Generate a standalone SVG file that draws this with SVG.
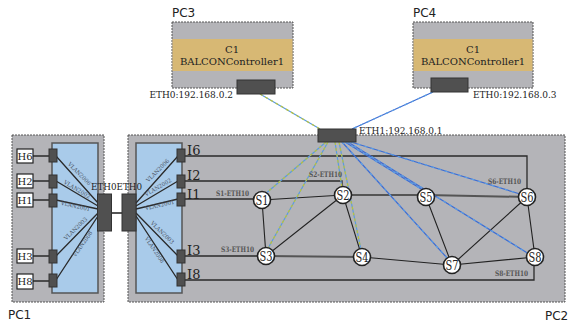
<svg xmlns="http://www.w3.org/2000/svg" width="569" height="323" viewBox="0 0 569 323">
<style>
.pc{fill:#b4b4b8;stroke:#555;stroke-width:1;stroke-dasharray:2,1}
.panel{fill:#a9cbea;stroke:#555;stroke-width:1.5}
.band{fill:#d7b874}
.port{fill:#505050;stroke:#333;stroke-width:1}
.host{fill:#fff;stroke:#222;stroke-width:1.2}
.pcl{font-family:"DejaVu Sans",sans-serif;font-size:12px;fill:#222}
.serif{font-family:"DejaVu Serif",serif;fill:#222}
.vl{font-family:"DejaVu Serif",serif;font-size:5.7px;fill:#4a5566;text-anchor:middle}
.eth10{font-family:"DejaVu Serif",serif;font-size:7.5px;font-weight:bold;fill:#555}
.wire{stroke:#2a2a2a;stroke-width:1.3;fill:none}
.edge{stroke:#222;stroke-width:1.1;fill:none}
.edgeg{stroke:#555;stroke-width:2;fill:none}
.yb{stroke:#5a9be0;stroke-width:1.2;fill:none}
.yb2{stroke:#bac43a;stroke-width:1.2;stroke-dasharray:3,3;fill:none}
.bl{stroke:#3d6cd2;stroke-width:1.2;fill:none}
.bl2{stroke:#5c9ee6;stroke-width:1.2;stroke-dasharray:3,4;fill:none}
.node circle{fill:#fff;stroke:#222;stroke-width:1.6}
.node text{font-family:"DejaVu Serif",serif;font-size:12px;fill:#222;text-anchor:middle}
</style>

<g id="PC1">
<rect class="pc" x="12" y="135" width="92" height="167"/>
<text class="pcl" x="8" y="319">PC1</text>
<rect class="panel" x="52" y="143" width="46" height="150"/>
</g>
<g id="PC2">
<rect class="pc" x="128" y="135" width="437" height="167"/>
<text class="pcl" x="545" y="320">PC2</text>
<rect class="panel" x="136" y="143" width="46" height="150"/>
</g>
<g id="PC3">
<text class="pcl" x="172" y="17">PC3</text>
<rect class="pc" x="172" y="22" width="121" height="66"/>
<rect class="band" x="172.5" y="39" width="120" height="32"/>
<text class="serif" x="232" y="53" font-size="10" text-anchor="middle">C1</text>
<text class="serif" x="232" y="65" font-size="10" text-anchor="middle">BALCONController1</text>
</g>
<g id="PC4">
<text class="pcl" x="413" y="17">PC4</text>
<rect class="pc" x="413" y="22" width="120" height="66"/>
<rect class="band" x="413.5" y="39" width="119" height="32"/>
<text class="serif" x="473" y="53" font-size="10" text-anchor="middle">C1</text>
<text class="serif" x="473" y="65" font-size="10" text-anchor="middle">BALCONController1</text>
</g>

<g id="connectors">
<path class="wire" d="M33 156H49M33 181H49M33 200H49M33 256H49M33 281H49"/>
<path class="wire" d="M56 156L98 203M56 181L98 206M56 200L98 209M56 256L98 213M56 280L98 216"/>
<path class="wire" d="M136 203L178 156M136 206L178 181M136 209L178 199M136 213L178 256M136 216L178 280"/>
<path d="M112 213H122" stroke="#555" stroke-width="2"/>
<path class="wire" d="M185 156H527V189"/>
<path class="wire" d="M185 181H342V187"/>
<path class="wire" d="M185 199H254"/>
<path class="wire" d="M185 256H258"/>
<path class="wire" d="M185 280H534V266"/>
<path class="edge" d="M262 200L343 195M262 200L266 256M266 256L343 195M343 195L362 257M362 257L452 265M426 197L452 265M527 197L452 265M527 197L535 257M452 265L535 257"/>
<path class="edgeg" d="M343 195H426L527 197M266 256L362 257"/>
<path class="yb" d="M260 94L320 129M326 142L264 195M328 142L267 250M335 142L342 188M339 142L361 250"/>
<path class="yb2" d="M260 94L320 129M326 142L264 195M328 142L267 250M335 142L342 188M339 142L361 250"/>
<path class="bl" d="M433 92L352 129M342 142L448 259M345 142L426 192M348 142L529 254M351 142L520 194"/>
<path class="bl2" d="M433 92L352 129M342 142L448 259M345 142L426 192M348 142L529 254M351 142L520 194"/>
</g>

<g id="H6"><rect class="host" x="17" y="149" width="16" height="14"/><text class="serif" x="25" y="160" font-size="10" text-anchor="middle">H6</text></g>
<g id="H2"><rect class="host" x="17" y="174" width="16" height="14"/><text class="serif" x="25" y="185" font-size="10" text-anchor="middle">H2</text></g>
<g id="H1"><rect class="host" x="17" y="193" width="16" height="14"/><text class="serif" x="25" y="204" font-size="10" text-anchor="middle">H1</text></g>
<g id="H3"><rect class="host" x="17" y="249" width="16" height="14"/><text class="serif" x="25" y="260" font-size="10" text-anchor="middle">H3</text></g>
<g id="H8"><rect class="host" x="17" y="274" width="16" height="15"/><text class="serif" x="25" y="285" font-size="10" text-anchor="middle">H8</text></g>

<g id="PC1-ports">
<rect class="port" x="49" y="149" width="8" height="13"/>
<rect class="port" x="49" y="175" width="8" height="13"/>
<rect class="port" x="49" y="194" width="8" height="13"/>
<rect class="port" x="49" y="250" width="8" height="13"/>
<rect class="port" x="49" y="274" width="8" height="13"/>
<text class="vl" transform="translate(78,175) rotate(45)" textLength="30" lengthAdjust="spacingAndGlyphs">VLAN2006</text>
<text class="vl" transform="translate(76,191) rotate(31)" textLength="30" lengthAdjust="spacingAndGlyphs">VLAN2002</text>
<text class="vl" transform="translate(75,208) rotate(13)" textLength="30" lengthAdjust="spacingAndGlyphs">VLAN2001</text>
<text class="vl" transform="translate(77,230) rotate(-44)" textLength="30" lengthAdjust="spacingAndGlyphs">VLAN2003</text>
<text class="vl" transform="translate(84,245) rotate(-55)" textLength="30" lengthAdjust="spacingAndGlyphs">VLAN2008</text>
</g>
<g id="PC2-ports">
<rect class="port" x="177" y="149" width="8" height="13"/>
<rect class="port" x="177" y="175" width="8" height="13"/>
<rect class="port" x="177" y="193" width="8" height="13"/>
<rect class="port" x="177" y="250" width="8" height="13"/>
<rect class="port" x="177" y="273" width="8" height="13"/>
<text class="serif" x="187" y="155" font-size="13">I6</text>
<text class="serif" x="187" y="180" font-size="13">I2</text>
<text class="serif" x="187" y="199" font-size="13">I1</text>
<text class="serif" x="187" y="255" font-size="13">I3</text>
<text class="serif" x="187" y="279" font-size="13">I8</text>
<text class="vl" transform="translate(159,172) rotate(-45)" textLength="30" lengthAdjust="spacingAndGlyphs">VLAN2006</text>
<text class="vl" transform="translate(159,189) rotate(-30)" textLength="30" lengthAdjust="spacingAndGlyphs">VLAN2002</text>
<text class="vl" transform="translate(160,207) rotate(-13)" textLength="30" lengthAdjust="spacingAndGlyphs">VLAN2001</text>
<text class="vl" transform="translate(161,234) rotate(44)" textLength="30" lengthAdjust="spacingAndGlyphs">VLAN2003</text>
<text class="vl" transform="translate(153,251) rotate(56)" textLength="30" lengthAdjust="spacingAndGlyphs">VLAN2008</text>
</g>

<g id="ETH0-PC1"><rect class="port" x="97.5" y="194" width="14" height="37"/></g>
<g id="ETH0-PC2"><rect class="port" x="122" y="194" width="14" height="37"/></g>
<text class="serif" x="91" y="190" font-size="9" textLength="51" lengthAdjust="spacingAndGlyphs">ETH0ETH0</text>

<g id="ETH0-PC3"><rect class="port" x="237" y="80" width="38" height="14"/><text class="serif" x="233" y="98" font-size="9" text-anchor="end">ETH0:192.168.0.2</text></g>
<g id="ETH0-PC4"><rect class="port" x="431" y="78" width="37" height="14"/><text class="serif" x="473" y="98" font-size="9">ETH0:192.168.0.3</text></g>
<g id="ETH1"><rect class="port" x="318" y="129" width="38" height="13"/><text class="serif" x="359" y="134" font-size="9">ETH1:192.168.0.1</text></g>

<g id="labels">
<text class="eth10" x="216" y="196" textLength="33" lengthAdjust="spacingAndGlyphs">S1-ETH10</text>
<text class="eth10" x="309" y="177" textLength="33" lengthAdjust="spacingAndGlyphs">S2-ETH10</text>
<text class="eth10" x="221" y="252" textLength="33" lengthAdjust="spacingAndGlyphs">S3-ETH10</text>
<text class="eth10" x="488" y="184" textLength="33" lengthAdjust="spacingAndGlyphs">S6-ETH10</text>
<text class="eth10" x="495" y="276" textLength="33" lengthAdjust="spacingAndGlyphs">S8-ETH10</text>
</g>

<g id="S1" class="node"><circle cx="262" cy="200" r="8.5"/><text x="262" y="204.5" textLength="13" lengthAdjust="spacingAndGlyphs">S1</text></g>
<g id="S2" class="node"><circle cx="343" cy="195" r="8.5"/><text x="343" y="199.5" textLength="13" lengthAdjust="spacingAndGlyphs">S2</text></g>
<g id="S3" class="node"><circle cx="266" cy="256" r="8.5"/><text x="266" y="260.5" textLength="13" lengthAdjust="spacingAndGlyphs">S3</text></g>
<g id="S4" class="node"><circle cx="362" cy="257" r="8.5"/><text x="362" y="261.5" textLength="13" lengthAdjust="spacingAndGlyphs">S4</text></g>
<g id="S5" class="node"><circle cx="426" cy="197" r="8.5"/><text x="426" y="201.5" textLength="13" lengthAdjust="spacingAndGlyphs">S5</text></g>
<g id="S6" class="node"><circle cx="527" cy="197" r="8.5"/><text x="527" y="201.5" textLength="13" lengthAdjust="spacingAndGlyphs">S6</text></g>
<g id="S7" class="node"><circle cx="452" cy="265" r="8.5"/><text x="452" y="269.5" textLength="13" lengthAdjust="spacingAndGlyphs">S7</text></g>
<g id="S8" class="node"><circle cx="535" cy="257" r="8.5"/><text x="535" y="261.5" textLength="13" lengthAdjust="spacingAndGlyphs">S8</text></g>
</svg>
